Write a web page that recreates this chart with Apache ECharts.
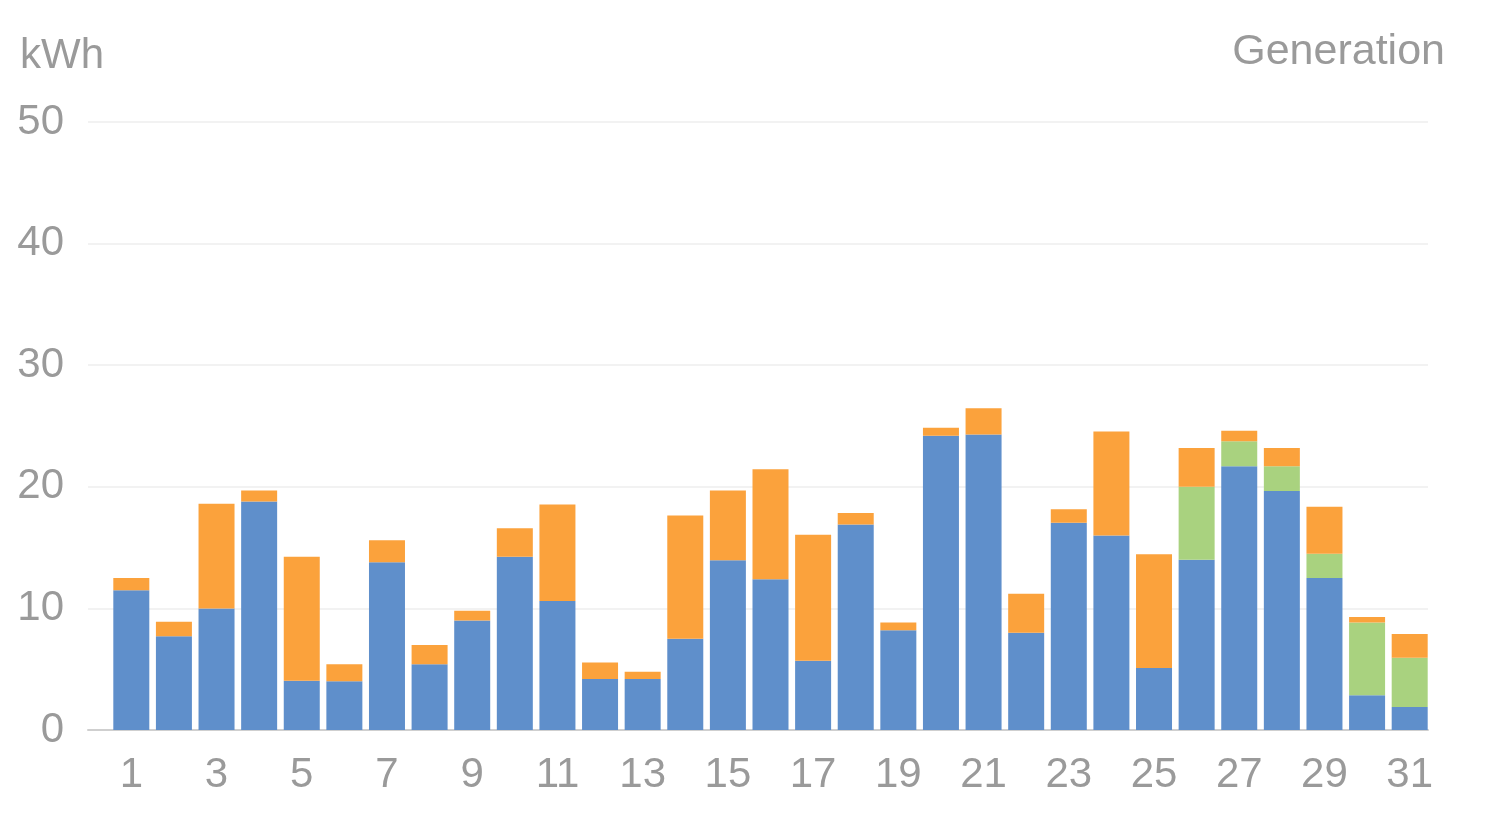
<!DOCTYPE html>
<html>
<head>
<meta charset="utf-8">
<script src="https://cdn.jsdelivr.net/npm/echarts@6/dist/echarts.min.js"></script>
<style>
html,body{margin:0;padding:0;background:#fff;}
#chart{width:1486px;height:826px;}
</style>
</head>
<body>
<div id="chart"></div>
<script>
const days = ['1','2','3','4','5','6','7','8','9','10','11','12','13','14','15','16','17','18','19','20','21','22','23','24','25','26','27','28','29','30','31'];
const blueValues   = [11.5,7.7,10.0,18.8,4.05,4.0,13.8,5.4,9.0,14.25,10.6,4.2,4.2,7.5,13.95,12.4,5.7,16.9,8.2,24.2,24.3,8.0,17.05,16.0,5.1,14.0,21.7,19.65,12.5,2.85,1.9];
const greenValues  = [0,0,0,0,0,0,0,0,0,0,0,0,0,0,0,0,0,0,0,0,0,0,0,0,0,6.0,2.05,2.05,2.0,6.0,4.05];
const orangeValues = [1.0,1.2,8.6,0.9,10.2,1.4,1.8,1.6,0.8,2.35,7.95,1.35,0.6,10.15,5.75,9.05,10.35,0.95,0.65,0.65,2.15,3.2,1.1,8.55,9.35,3.2,0.85,1.5,3.85,0.45,1.95];
const yTicks = [0,10,20,30,40,50];
const unitLabel = 'kWh';
const titleLabel = 'Generation';

const font = '"Liberation Sans", Arial, sans-serif';
const gray = '#9a9a9a';

const chart = echarts.init(document.getElementById('chart'));
chart.setOption({
  animation: false,
  backgroundColor: '#fff',
  title: [
    { text: unitLabel, left: 15, top: 30, textStyle: { fontFamily: font, fontSize: 42, fontWeight: 'normal', color: gray } },
    { text: titleLabel, right: 36, top: 26, textStyle: { fontFamily: font, fontSize: 43, fontWeight: 'normal', color: gray } }
  ],
  grid: [
    { left: 88, right: 58, top: 122, bottom: 96, containLabel: false },
    { left: 110, right: 55, top: 122, bottom: 96, containLabel: false }
  ],
  xAxis: [
    {
      gridIndex: 0, type: 'value', min: 0, max: 1,
      axisLine: { show: true, lineStyle: { color: '#cfcfcf', width: 2 } },
      axisTick: { show: false }, splitLine: { show: false }, axisLabel: { show: false }
    },
    {
      gridIndex: 1, type: 'category', data: days, boundaryGap: true,
      axisLine: { show: false }, axisTick: { show: false }, splitLine: { show: false },
      axisLabel: { interval: 1, fontFamily: font, fontSize: 42, color: gray, margin: 24 }
    }
  ],
  yAxis: [
    {
      gridIndex: 0, type: 'value', min: yTicks[0], max: yTicks[yTicks.length - 1], interval: 10,
      axisLine: { show: false }, axisTick: { show: false },
      splitLine: { show: true, lineStyle: { color: '#f2f2f2', width: 2 } },
      axisLabel: { fontFamily: font, fontSize: 42, color: gray, margin: 24 }
    },
    {
      gridIndex: 1, type: 'value', min: yTicks[0], max: yTicks[yTicks.length - 1], interval: 10,
      show: false
    }
  ],
  series: [
    { name: 'Self', type: 'bar', stack: 'g', xAxisIndex: 1, yAxisIndex: 1, barWidth: 36, data: blueValues, itemStyle: { color: '#5f8fcb' } },
    { name: 'Battery', type: 'bar', stack: 'g', xAxisIndex: 1, yAxisIndex: 1, barWidth: 36, data: greenValues, itemStyle: { color: '#a9d27f' } },
    { name: 'Grid', type: 'bar', stack: 'g', xAxisIndex: 1, yAxisIndex: 1, barWidth: 36, data: orangeValues, itemStyle: { color: '#fba23c' } }
  ]
});
</script>
</body>
</html>
